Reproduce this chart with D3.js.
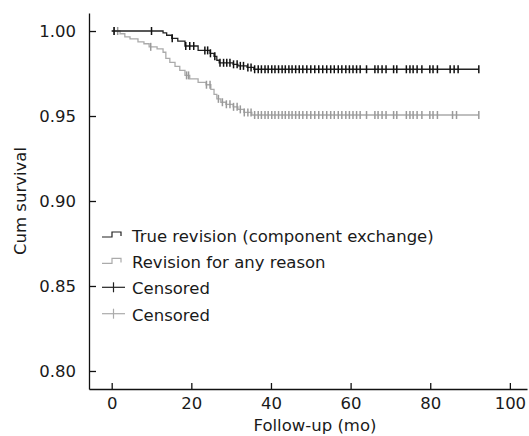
<!DOCTYPE html>
<html>
<head>
<meta charset="utf-8">
<script src="https://cdn.jsdelivr.net/npm/d3@7"></script>
<style>
  body { margin: 0; background: #fff; }
  text { font-family: "DejaVu Sans", Verdana, sans-serif; font-size: 16.5px; fill: #1a1a1a; }
</style>
</head>
<body>
<svg id="chart" width="529" height="436"></svg>
<script>
// Kaplan-Meier steps (months, cumulative survival)
const trueTimes = [0, 12.9, 13.8, 15.1, 16.6, 18.4, 21.7, 24.7, 25.7, 26.4, 27.0, 30.5, 31.7, 34.0, 35.7];
const trueSurv  = [1, 0.9989, 0.9975, 0.9957, 0.9940, 0.9912, 0.9886, 0.9869, 0.9851, 0.9828, 0.9813, 0.9804, 0.9795, 0.9786, 0.9775];
const trueCensored = [0.6, 10, 15.2, 18.6, 19.6, 20.6, 23.4, 24.1, 24.8, 25.9, 27.2, 28.1, 28.9, 29.7, 30.6,
  31.5, 32.3, 33.1, 34.2, 35, 35.9, 36.8, 37.6, 38.5, 39.3, 40.2, 41, 41.9, 42.8, 43.6, 44.5, 45.3, 46.2,
  47.1, 48, 49, 50, 51, 52, 53, 54, 55, 55.9, 56.9, 57.8, 58.8, 59.7, 60.6, 61.5, 62.4, 64, 66.1, 66.9,
  67.9, 68.9, 70.8, 71.6, 74, 74.9, 75.7, 76.7, 77.9, 79.9, 80.7, 81.8, 85, 86, 87, 92.2];

const anyTimes = [0, 2.1, 3.3, 4.6, 6.6, 8.1, 9.4, 11.4, 12.9, 13.6, 14.6, 15.9, 17.1, 18.4, 19.6, 21.7,
  23.7, 24.9, 25.7, 26.4, 27.4, 28.7, 30.5, 31.7, 33.2, 35.2];
const anySurv = [1, 0.9984, 0.9966, 0.9954, 0.9936, 0.9925, 0.9907, 0.9895, 0.9875, 0.9839, 0.9816, 0.9792,
  0.9769, 0.9739, 0.9719, 0.9698, 0.9684, 0.9657, 0.9627, 0.9601, 0.9581, 0.9569, 0.9554, 0.9539, 0.9521, 0.9506];
const anyCensored = [0.6, 1.5, 9.8, 18.8, 19.3, 23.8, 24.7, 26.8, 27.8, 28.8, 29.7, 30.6, 31.5, 32.3, 33.3,
  34.2, 35, 35.9, 36.8, 37.6, 38.5, 39.3, 40.2, 41, 41.9, 42.8, 43.6, 44.5, 45.3, 46.2, 47.1, 48, 49, 50,
  51, 52, 53, 54, 55, 55.9, 56.9, 57.8, 58.8, 59.7, 60.6, 61.5, 62.4, 64, 66.1, 66.9, 67.9, 68.9, 70.8,
  71.6, 74, 74.9, 75.7, 76.7, 77.9, 79.9, 80.7, 81.8, 85.6, 86.6, 92.2];

const xTicks = [0, 20, 40, 60, 80, 100];
const yTicks = [0.80, 0.85, 0.90, 0.95, 1.00];
const legendLabels = ["True revision (component exchange)", "Revision for any reason", "Censored", "Censored"];

const dark = "#222", light = "#ababab";

const svg = d3.select("#chart");

const x = d3.scaleLinear().domain([-5.7, 104.3]).range([89, 527]);
const y = d3.scaleLinear().domain([0.7894, 1.0106]).range([389, 13]);

// Y axis
svg.append("g")
   .attr("transform", "translate(89,0)")
   .call(d3.axisLeft(y).tickValues(yTicks).tickFormat(d3.format(".2f"))
           .tickSizeInner(-7).tickSizeOuter(0).tickPadding(13))
   .call(g => g.selectAll("text").attr("font-size", null).attr("font-family", null))
   .call(g => g.selectAll("path, line").attr("stroke", "#111").attr("stroke-width", 1.3));

// X axis
svg.append("g")
   .attr("transform", "translate(0,389)")
   .call(d3.axisBottom(x).tickValues(xTicks).tickSizeInner(-6).tickSizeOuter(0).tickPadding(7))
   .call(g => g.selectAll("text").attr("font-size", null).attr("font-family", null).attr("dy", "0.8em"))
   .call(g => g.selectAll("path, line").attr("stroke", "#111").attr("stroke-width", 1.3));

svg.append("text")
   .attr("transform", "translate(26,201) rotate(-90)")
   .attr("text-anchor", "middle")
   .text("Cum survival");

svg.append("text")
   .attr("x", 315).attr("y", 431)
   .attr("text-anchor", "middle")
   .text("Follow-up (mo)");

// Curves
function survAt(times, surv, t) {
  const i = d3.bisectRight(times, t) - 1;
  return surv[Math.max(i, 0)];
}

function drawCurve(times, surv, censored, lineColor, markColor) {
  const end = d3.max(censored);
  const pts = times.map((t, i) => [t, surv[i]]);
  pts.push([end, surv[surv.length - 1]]);
  const line = d3.line().x(d => x(d[0])).y(d => y(d[1])).curve(d3.curveStepAfter);
  svg.append("path")
     .attr("d", line(pts))
     .attr("fill", "none")
     .attr("stroke", lineColor)
     .attr("stroke-width", 1.3);
  svg.append("g").selectAll("line")
     .data(censored)
     .enter().append("line")
     .attr("x1", d => x(d)).attr("x2", d => x(d))
     .attr("y1", d => y(survAt(times, surv, d)) - 4)
     .attr("y2", d => y(survAt(times, surv, d)) + 4)
     .attr("stroke", markColor)
     .attr("stroke-width", 1.5);
}

drawCurve(anyTimes, anySurv, anyCensored, light, "#9a9a9a");
drawCurve(trueTimes, trueSurv, trueCensored, dark, "#111");

// Legend
const legend = svg.append("g").attr("transform", "translate(0,241.5)");
legendLabels.forEach((label, i) => {
  const g = legend.append("g").attr("transform", `translate(0,${i * 26.4})`);
  const col = i % 2 === 0 ? dark : light;
  if (i < 2) {
    g.append("path")
     .attr("d", "M102,-4.5 H112 V-9.5 H121 V-5.5")
     .attr("fill", "none").attr("stroke", col).attr("stroke-width", 1.2);
  } else {
    g.append("line").attr("x1", 102).attr("x2", 125).attr("y1", -7).attr("y2", -7)
     .attr("stroke", col).attr("stroke-width", 1.2);
    g.append("line").attr("x1", 113.5).attr("x2", 113.5).attr("y1", -12).attr("y2", -2)
     .attr("stroke", col).attr("stroke-width", 1.2);
  }
  g.append("text").attr("x", 132).attr("y", 0).text(label);
});
</script>
</body>
</html>
